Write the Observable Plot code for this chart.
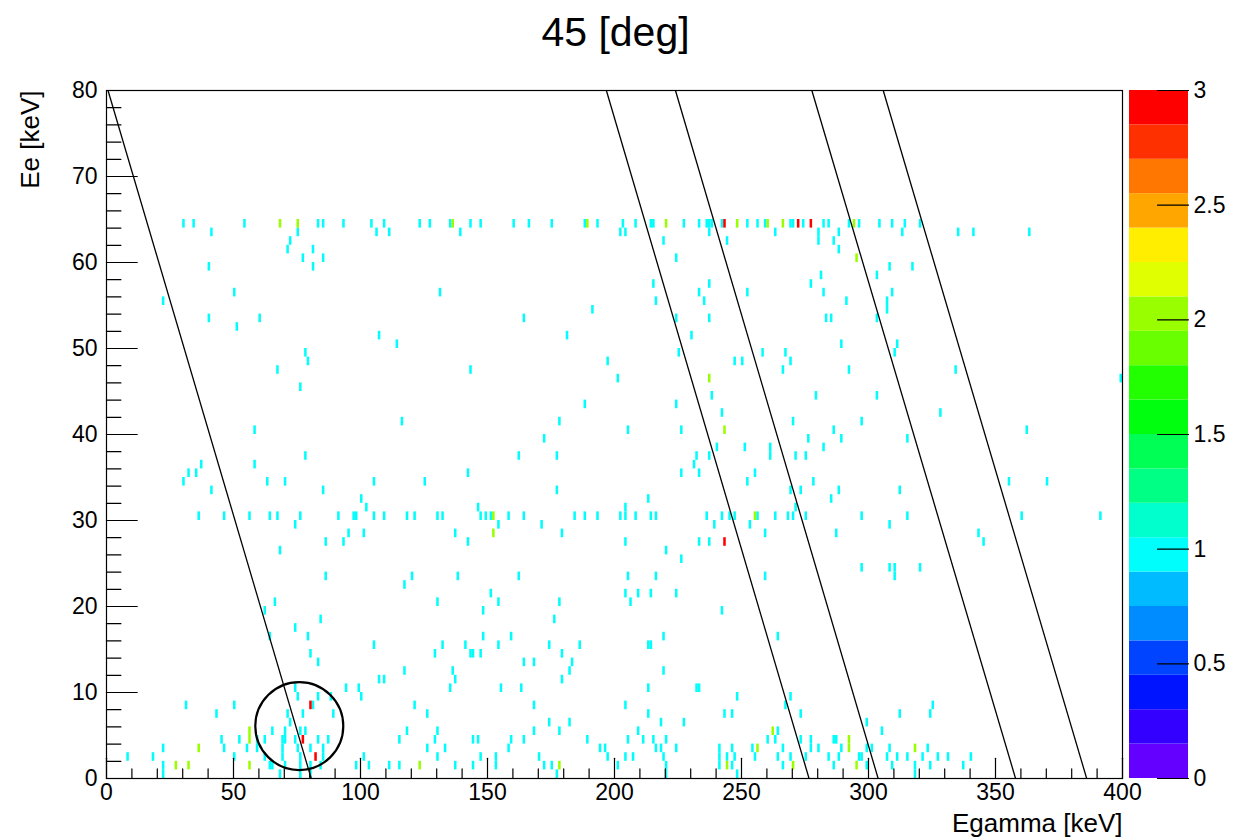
<!DOCTYPE html>
<html><head><meta charset="utf-8">
<script src="https://cdn.jsdelivr.net/npm/d3@7"></script>
<script src="https://cdn.jsdelivr.net/npm/@observablehq/plot@0.6"></script>
<style>
body{margin:0;background:#fff;}
#wrap{position:relative;width:1237px;height:840px;overflow:hidden;background:#fff;}
#wrap svg{position:absolute;top:0;}
</style></head><body><div id="wrap"></div>
<script>
// ---- data (bins are 1 keV x 1 keV; each entry = [Egamma bin, Ee bin]) ----
const cells1 = [
[30,64],[34,64],[54,64],[83,64],[85,64],[93,64],[104,64],[109,64],[123,64],[127,64],[135,64],[143,64],[147,64],[160,64],[166,64],[175,64],[188,64],[193,64],[203,64],[208,64],[214,64],[215,64],[227,64],[233,64],[236,64],[237,64],[238,64],[242,64],[252,64],[256,64],[259,64],[269,64],[270,64],[274,64],[282,64],[284,64],[292,64],[296,64],[304,64],[309,64],[314,64],[320,64],
[41,63],[75,63],[106,63],[111,63],[139,63],[202,63],[204,63],[237,63],[263,63],[280,63],[288,63],[313,63],[335,63],[341,63],[363,63],
[72,62],[219,62],[244,62],[280,62],[286,62],
[71,61],[81,61],[288,61],
[77,60],[85,60],[224,60],
[40,59],[81,59],[308,59],[317,59],
[281,58],[303,58],
[215,57],[237,57],[277,57],
[50,56],[131,56],[233,56],[252,56],[282,56],[309,56],
[22,55],[216,55],[235,55],[291,55],[307,55],
[191,54],[307,54],
[40,53],[60,53],[164,53],[224,53],[237,53],[283,53],[285,53],[303,53],
[51,52],
[107,51],[181,51],[230,51],
[114,50],[289,50],[311,50],
[78,49],[225,49],[258,49],[267,49],[310,49],
[79,48],[197,48],[247,48],[250,48],[269,48],
[67,47],[143,47],[266,47],[292,47],[334,47],
[201,46],[399,46],
[76,45],
[238,44],[279,44],[303,44],
[188,43],[224,43],
[242,42],[328,42],
[116,41],[178,41],[270,41],[297,41],
[58,40],[205,40],[226,40],[286,40],[362,40],
[172,39],[276,39],[289,39],[315,39],
[240,38],[251,38],[261,38],[282,38],
[78,37],[162,37],[177,37],[232,37],[237,37],[261,37],[271,37],[275,37],
[37,36],[58,36],[231,36],
[32,35],[35,35],[142,35],[226,35],[233,35],[255,35],
[30,34],[63,34],[70,34],[105,34],[125,34],[252,34],[278,34],[355,34],[370,34],
[41,33],[85,33],[177,33],[269,33],[273,33],[288,33],[312,33],
[100,32],[213,32],[285,32],
[102,31],[146,31],[204,31],[271,31],
[36,30],[46,30],[56,30],[64,30],[67,30],[76,30],[91,30],[97,30],[98,30],[105,30],[109,30],[118,30],[121,30],[130,30],[132,30],[147,30],[149,30],[151,30],[158,30],[164,30],[184,30],[188,30],[193,30],[202,30],[204,30],[208,30],[214,30],[216,30],[236,30],[242,30],[245,30],[247,30],[256,30],[263,30],[268,30],[270,30],[275,30],[297,30],[315,30],[360,30],[391,30],
[74,29],[154,29],[171,29],[239,29],[253,29],[308,29],
[95,28],[101,28],[137,28],[179,28],[259,28],[287,28],[343,28],
[86,27],[93,27],[142,27],[204,27],[233,27],[237,27],[345,27],
[68,26],[220,26],
[226,25],
[297,24],[308,24],[310,24],[320,24],
[86,23],[120,23],[138,23],[162,23],[205,23],[216,23],[259,23],[310,23],
[117,22],
[151,21],[204,21],[209,21],[214,21],[224,21],
[66,20],[130,20],[154,20],[178,20],[206,20],
[62,19],[148,19],[242,19],
[84,18],[176,18],
[74,17],
[64,16],[79,16],[148,16],[159,16],[219,16],[264,16],
[105,15],[132,15],[141,15],[154,15],[174,15],[186,15],[213,15],[214,15],
[80,14],[129,14],[143,14],[144,14],[147,14],[179,14],
[83,13],[164,13],[168,13],[183,13],
[117,12],[136,12],[182,12],[219,12],
[107,11],[109,11],[137,11],[179,11],
[74,10],[94,10],[99,10],[135,10],[155,10],[163,10],[213,10],[232,10],[233,10],
[75,9],[83,9],[88,9],[100,9],[248,9],[269,9],
[31,8],[50,8],[81,8],[121,8],[168,8],[204,8],[267,8],[325,8],
[43,7],[71,7],[77,7],[89,7],[126,7],[213,7],[243,7],[246,7],[273,7],[312,7],[324,7],
[72,6],[174,6],[182,6],[218,6],[227,6],[299,6],
[65,5],[70,5],[76,5],[78,5],[118,5],[130,5],[168,5],[178,5],[209,5],[264,5],[305,5],
[45,4],[52,4],[59,4],[62,4],[69,4],[70,4],[74,4],[83,4],[87,4],[115,4],[129,4],[144,4],[146,4],[159,4],[164,4],[189,4],[205,4],[211,4],[215,4],[220,4],[260,4],[263,4],[273,4],[277,4],[286,4],[287,4],
[22,3],[46,3],[55,3],[59,3],[69,3],[75,3],[80,3],[85,3],[126,3],[133,3],[158,3],[194,3],[196,3],[216,3],[218,3],[224,3],[241,3],[246,3],[254,3],[266,3],[277,3],[280,3],[289,3],[299,3],[301,3],[308,3],[323,3],
[8,2],[18,2],[50,2],[62,2],[69,2],[76,2],[85,2],[101,2],[130,2],[147,2],[153,2],[170,2],[197,2],[204,2],[207,2],[219,2],[241,2],[244,2],[247,2],[255,2],[264,2],[269,2],[275,2],[284,2],[288,2],[296,2],[297,2],[307,2],[311,2],[315,2],[321,2],[327,2],[331,2],[340,2],
[22,1],[64,1],[65,1],[70,1],[76,1],[80,1],[84,1],[98,1],[103,1],[111,1],[115,1],[137,1],[144,1],[153,1],[172,1],[175,1],[201,1],[220,1],[241,1],[246,1],[266,1],[286,1],[299,1],[309,1],[318,1],[324,1],[337,1],
[22,0],[68,0],[76,0],[80,0],[177,0],[220,0],[248,0],[318,0]
];
const cells2 = [
[68,64],[75,64],[136,64],[189,64],[220,64],[248,64],[260,64],[266,64],[294,64],
[295,60],[237,46],[243,40],[152,30],[255,30],[152,28],
[56,5],[262,5],[56,4],[292,4],[36,3],[256,3],[292,3],[318,3],
[27,1],[32,1],[56,1],[123,1],[178,1],[244,1],[270,1],[295,1]
];
const cells3 = [
[243,64],[272,64],[277,64],[243,27],[80,8],[77,4],[82,2]
];

// kinematic lines: Egamma at Ee = 80 (top) and at Ee = 0 (bottom)
const lineTopX    = [0.6, 196.8, 224.0, 277.7, 305.8];
const lineBottomX = [80.6, 276.6, 303.8, 357.9, 385.9];
// marked region (circle)
const circleX = 75.9, circleY = 6.1;

// tick labels
const xTickLabels = [0, 50, 100, 150, 200, 250, 300, 350, 400];
const yTickLabels = [0, 10, 20, 30, 40, 50, 60, 70, 80];
const zTickLabels = [0, 0.5, 1, 1.5, 2, 2.5, 3];

// ROOT "pretty" palette, 20 contour levels between 0 and 3
const zMax = 3, nLevels = 20;
const paletteColors = ["#6300ff","#3300ff","#0014ff","#0044ff","#008bff","#00bbff","#00fffc","#00ffcc","#00ff85","#00ff55",
                       "#00ff0e","#22ff00","#69ff00","#99ff00","#e0ff00","#ffee00","#ffa700","#ff7700","#ff3000","#ff0000"];

// ---- build ----
const cells = [
  ...cells1.map(([x, y]) => ({x, y, n: 1})),
  ...cells2.map(([x, y]) => ({x, y, n: 2})),
  ...cells3.map(([x, y]) => ({x, y, n: 3}))
];
const step = zMax / nLevels;
const thresholds = d3.range(1, nLevels).map(k => k * step);
const colorScale = {type: "threshold", domain: thresholds, range: paletteColors};
const lines = lineTopX.map((t, i) => ({top: t, bottom: lineBottomX[i]}));
const tickShape = {draw(ctx, l) { ctx.moveTo(0, 0); ctx.lineTo(0, -l); }};
const xTicks = d3.range(0, 401, 10);
const yTicks = d3.range(0, 81, 2);
const font = "'Liberation Sans', Arial, Helvetica, sans-serif";

const main = Plot.plot({
  width: 1237, height: 840,
  marginLeft: 106, marginRight: 115, marginTop: 90, marginBottom: 62,
  x: {domain: [0, 400], axis: null},
  y: {domain: [0, 80], axis: null},
  color: colorScale,
  style: {fontFamily: font, fontSize: "23px", color: "black", background: "transparent", overflow: "visible"},
  marks: [
    Plot.rect(cells, {x1: d => d.x, x2: d => d.x + 1, y1: d => d.y, y2: d => d.y + 1, fill: "n"}),
    Plot.link(lines, {x1: "top", y1: 80, x2: "bottom", y2: 0, stroke: "black", strokeWidth: 1.3}),
    Plot.dot([{x: circleX, y: circleY}], {x: "x", y: "y", r: 44, stroke: "black", strokeWidth: 2.2, fill: "none"}),
    Plot.frame({stroke: "black", strokeWidth: 1.2}),
    Plot.vector(xTicks, {x: d => d, y: 0, rotate: 0, anchor: "start", length: d => d % 50 === 0 ? 21 : 10, shape: tickShape, stroke: "black", strokeWidth: 1.2}),
    Plot.vector(yTicks, {x: 0, y: d => d, rotate: 90, anchor: "start", length: d => d % 10 === 0 ? 32 : 15, shape: tickShape, stroke: "black", strokeWidth: 1.2}),
    Plot.text(xTickLabels, {x: d => d, y: 0, dy: 5, lineAnchor: "top", text: d => String(d), fontSize: 23}),
    Plot.text(yTickLabels, {x: 0, y: d => d, dx: -9, textAnchor: "end", lineAnchor: "middle", text: d => String(d), fontSize: 23}),
    Plot.text(["Egamma [keV]"], {frameAnchor: "bottom-right", dy: 53, textAnchor: "end", lineAnchor: "bottom", fontSize: 26}),
    Plot.text(["Ee [keV]"], {frameAnchor: "top-left", dx: -76, rotate: -90, textAnchor: "end", lineAnchor: "middle", fontSize: 26}),
    Plot.text(["45 [deg]"], {frameAnchor: "top", dx: 1, dy: -45, lineAnchor: "bottom", fontSize: 41})
  ]
});
main.style.left = "0px";
document.getElementById("wrap").appendChild(main);

const bands = d3.range(nLevels).map(k => k * step);
const zTicks = zTickLabels;
const bar = Plot.plot({
  width: 108, height: 840,
  marginLeft: 0, marginRight: 49, marginTop: 90, marginBottom: 62,
  x: {domain: [0, 1], axis: null},
  y: {domain: [0, zMax], axis: null},
  color: colorScale,
  style: {fontFamily: font, fontSize: "23px", color: "black", background: "transparent", overflow: "visible"},
  marks: [
    Plot.rect(bands, {x1: 0, x2: 1, y1: d => d, y2: d => d + step, fill: d => d + step / 2}),
    Plot.vector(zTicks, {x: 1, y: d => d, rotate: -90, anchor: "start", length: 31, shape: tickShape, stroke: "black", strokeWidth: 1.2}),
    Plot.text(zTickLabels, {x: 1, y: d => d, dx: 5, textAnchor: "start", lineAnchor: "middle", text: d => String(d), fontSize: 23})
  ]
});
bar.style.left = "1129px";
document.getElementById("wrap").appendChild(bar);
</script></body></html>
